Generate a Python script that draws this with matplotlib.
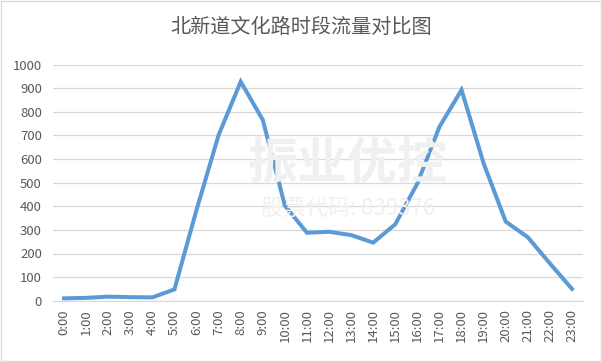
import matplotlib
matplotlib.use("Agg")
import matplotlib.pyplot as plt
from matplotlib.patches import Rectangle

plt.rcParams['font.family'] = ['Noto Sans CJK SC', 'DejaVu Sans']

title = "北新道文化路时段流量对比图"
hours = [f"{h}:00" for h in range(24)]
flow = [10, 12, 17, 15, 14, 48, 385, 702, 928, 766, 403, 288,
        292, 278, 246, 324, 497, 737, 893, 582, 335, 269, 158, 50]
yticks = list(range(0, 1001, 100))

fig = plt.figure(figsize=(6.02, 3.62), dpi=100)
ax = fig.add_axes([53/602, 1 - 300.7/362, (583-53)/602, (300.7-64.7)/362])

# faint watermark
fig.text(0.578, 0.544, "振业优控", fontsize=36, color="#f0f0f0", ha="center", va="center",
         fontweight="bold", zorder=0)
fig.text(0.578, 0.425, "股票代码: 839376", fontsize=16, color="#f0f0f0", ha="center", va="center",
         zorder=0)

x = list(range(len(hours)))
ax.plot(x, flow, color="#5B9BD5", lw=2.9, solid_joinstyle="miter", zorder=3)

ax.set_xlim(-0.5, len(hours) - 0.5)
ax.set_ylim(0, 1000)
ax.set_yticks(yticks)
ax.set_xticks(x)
ax.set_xticklabels(hours, rotation=90, fontsize=9.5, color="#595959")
ax.tick_params(axis='y', labelsize=9.5, labelcolor="#595959", length=0, pad=8)
ax.tick_params(axis='x', length=0, pad=6)
ax.grid(axis='y', color="#d9d9d9", lw=0.9)
ax.set_axisbelow(True)
for s in ["top", "right", "left"]:
    ax.spines[s].set_visible(False)
ax.spines["bottom"].set_color("#d9d9d9")
ax.patch.set_alpha(0)

fig.text(0.5, 1 - 27/362, title, ha="center", va="center", fontsize=14.5, color="#595959")

fig.patches.append(Rectangle((0.002, 0.003), 0.996, 0.994, transform=fig.transFigure,
                             fill=False, edgecolor="#d9d9d9", lw=1))

fig.savefig("out.png", dpi=100)
